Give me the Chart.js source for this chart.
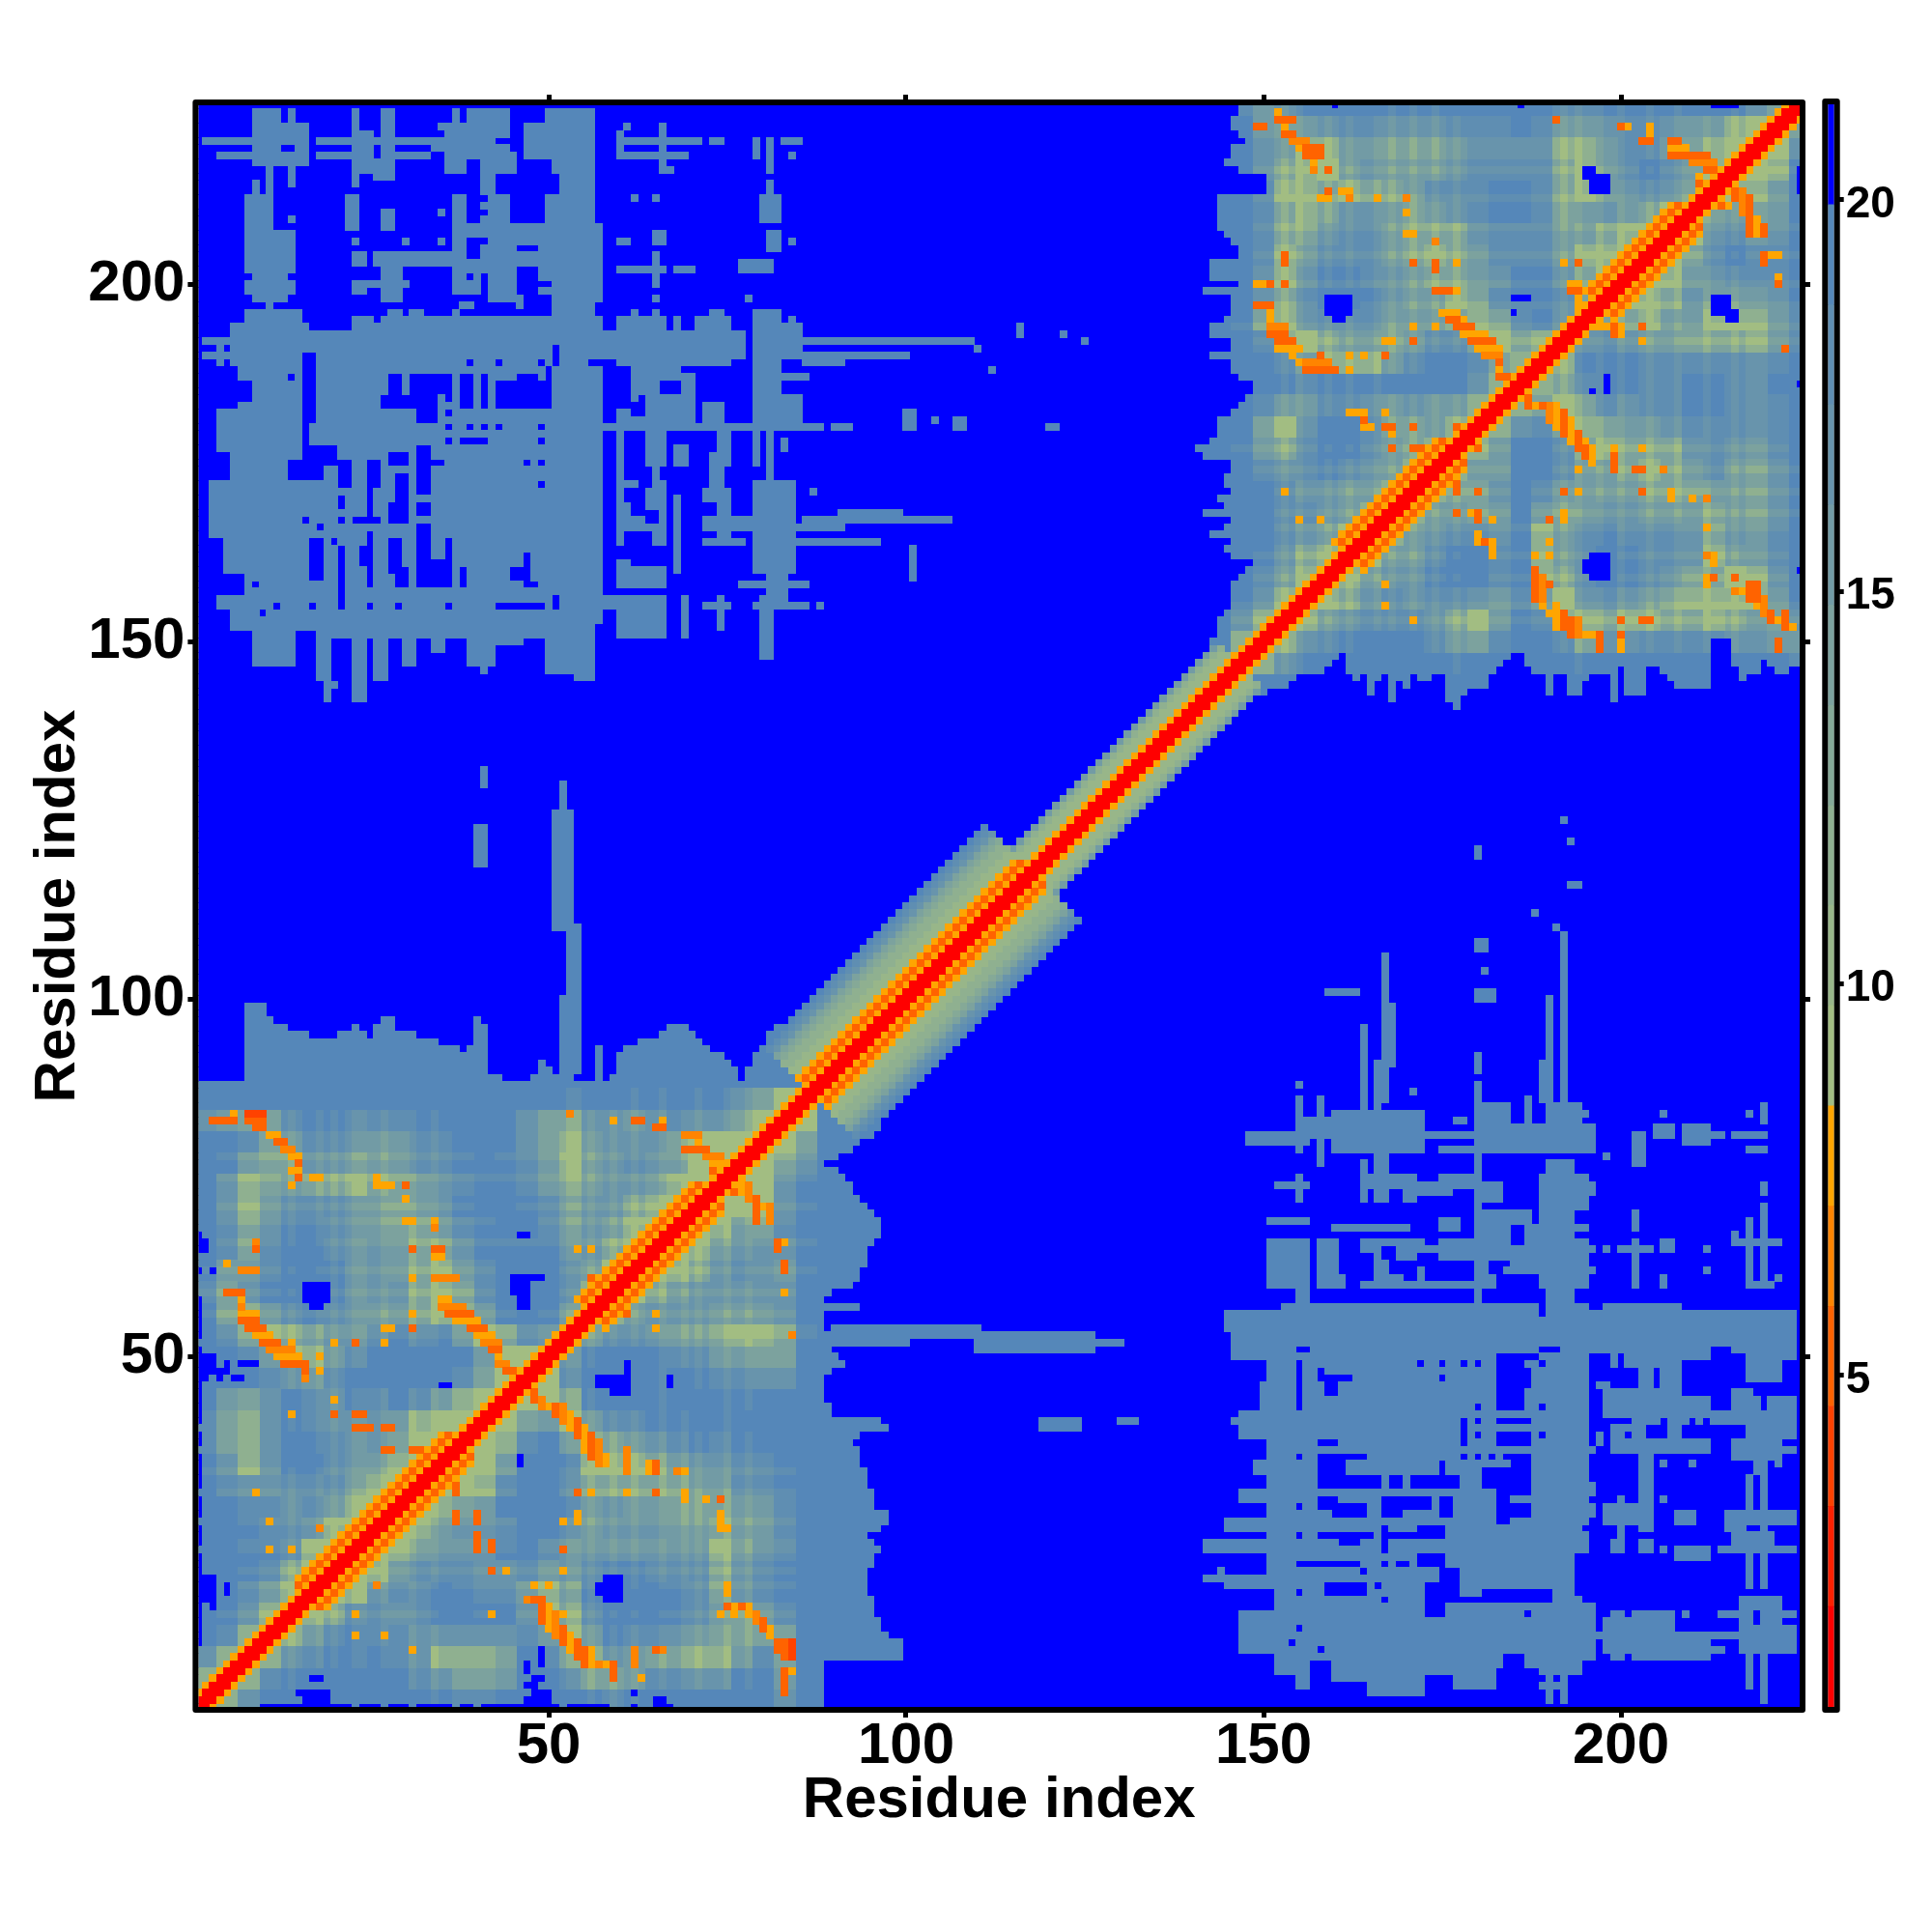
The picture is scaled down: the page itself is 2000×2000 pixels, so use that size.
<!DOCTYPE html>
<html>
<head>
<meta charset="utf-8">
<script src="https://cdn.jsdelivr.net/npm/chart.js@4"></script>
<style>
html, body { margin: 0; background: #fff; }
canvas { position: absolute; left: 0; top: 0; }
</style>
</head>
<body>
<canvas id="mapChart" width="2000" height="2000"></canvas>
<canvas id="barChart" width="2000" height="2000"></canvas>
<script>
const residueCount = 225;
const axisTicks = [50, 100, 150, 200];
const colorTicks = [5, 10, 15, 20];
const axisTitle = 'Residue index';

// one colour per distance bin, red (close) to blue (far)
const levelColors = ['#ff0000', '#ff2100', '#ff4200', '#ff6300', '#ff8400', '#ffa500',
    '#a2bd82', '#98b689', '#8fb090', '#85a997', '#7ca29e', '#729ba5', '#6894ac', '#5f8eb2', '#5587b9', '#0000ff'];
const colorBreaks = [0.77, 2.05, 3.33, 4.61, 5.88, 7.16, 8.44, 9.72, 11, 12.27, 13.55, 14.83, 16.11, 17.39, 18.66, 19.94, 21.22];

// distance bins by offset from the diagonal
const bandPlain = [0, 0, 5];
const bandStrand = [0, 0, 5, 3, 5];
const bandHelix = [0, 0, 5, 3, 5, 7, 7, 8, 8, 9, 10, 12, 13, 14];
const bandLinker = [0, 0, 5, 7, 7, 8, 11];
const bandSegments = [
    [1, 16, bandPlain], [17, 37, bandStrand], [38, 55, bandPlain], [56, 72, bandStrand],
    [73, 86, bandPlain], [87, 117, bandHelix], [118, 146, bandLinker], [147, 161, bandPlain],
    [162, 176, bandStrand], [177, 196, bandPlain], [197, 209, bandStrand], [210, 225, bandPlain]
];

// how far the first domain reaches, for y = 1..88
const domainOneReach = [84, 84, 85, 86, 86, 86, 88, 99, 99, 99, 97, 96, 96, 95, 95, 95, 94, 94, 94, 94, 95, 95, 96, 95, 94,
    96, 97, 97, 95, 95, 95, 94, 94, 94, 93, 93, 93, 92, 93, 97, 96, 89, 89, 88, 87, 87, 87, 89, 91, 90, 89, 100, 93, 88, 88,
    88, 93, 88, 89, 92, 93, 93, 94, 94, 94, 95, 96, 96, 96, 95, 94, 93, 92, 92, 91, 90, 88, 90, 92, 93, 95, 96, 96, 96, 97, 98, 99, 100];
// where the second domain starts, for y = 146..225
const domainTwoStart = [144, 143, 143, 143, 143, 144, 144, 144, 145, 146, 146, 146, 146, 147, 148, 149, 146, 145, 146, 143,
    145, 146, 142, 145, 144, 146, 145, 145, 146, 146, 142, 141, 143, 144, 144, 144, 146, 147, 148, 149, 149, 147, 146, 146,
    143, 146, 146, 143, 143, 145, 146, 146, 146, 142, 147, 143, 143, 143, 147, 147, 146, 145, 144, 144, 144, 144, 144, 151,
    151, 151, 147, 145, 146, 146, 148, 147, 146, 146, 147, 147];

// soft background of each domain, 3 x 3 residue blocks, lower triangle, 0 = steel .. 8 = khaki
const domainOneShade = ['8', '78', '478', '1378', '12478', '013578', '0123688', '01223788', '012334788', '0233435788',
    '13443335788', '247411345788', '3674123446888', '36742344457888', '256413423135788', '0123453100013688',
    '01358753100025888', '136765443232586348', '2675323455677521258', '36421024446763100378', '255311244567531113588',
    '1363113445664222244688', '13642234566532113545788', '147533345654211235446788', '1476566766543223565445788',
    '02566445553321235754345888', '023653345533212467544468888', '4566322333221124664454344688', '01211001110000022211221224688'];
const domainTwoShade = ['8', '78', '478', '2478', '13578', '024678', '0134578', '01334578', '013445578', '1343234578',
    '25631135678', '268411366578', '1355334545578', '01232221001478', '013577753113678', '1378655653368678',
    '26743335556763248', '146311245576322368', '1474223456654224678', '13753335676533357778', '036643356664333556788',
    '1367644565432236545688', '13776766533322367543468', '146785455543333675313578', '1457755666544447753356788',
    '25654334443332355433455788', '354211122211102332222102468'];
// residues whose row and column run a little closer than their neighbours
const domainOneStreaks = [14, 18, 20, 23, 24, 27, 31, 34, 53, 54, 56, 59, 62, 66, 69, 71, 75, 78];
const domainTwoStreaks = [153, 155, 159, 162, 166, 168, 171, 174, 177, 192, 194, 197, 200, 204, 208, 212, 216];
// digit of the shade tables, plus streaks, to distance bin
const shadeBins = [14, 14, 14, 13, 12, 11, 10, 8, 6, 6, 6];

const domainOneContacts = [[3, 6, 83, 3], [6, 6, 84, 5], [8, 10, 84, 2], [8, 10, 83, 3], [9, 10, 82, 3], [11, 12, 81, 5], [12, 13, 80, 3],
    [13, 14, 79, 4], [14, 15, 78, 5], [15, 15, 77, 3], [14, 15, 76, 5], [15, 15, 75, 3], [17, 18, 75, 5], [14, 14, 74, 5],
    [5, 5, 63, 5], [7, 9, 62, 4], [5, 7, 59, 3], [7, 7, 58, 5], [7, 7, 57, 4], [7, 9, 56, 5], [7, 9, 55, 3], [8, 10, 54, 3], [9, 11, 53, 5],
    [10, 12, 52, 3], [11, 14, 51, 4], [14, 14, 52, 5], [12, 15, 50, 5], [13, 16, 49, 3], [16, 16, 48, 3], [16, 16, 47, 4], [18, 18, 50, 5],
    [18, 18, 48, 5], [9, 9, 66, 4], [9, 9, 65, 3], [35, 36, 58, 5], [35, 38, 57, 4], [36, 39, 56, 3], [37, 40, 55, 5], [39, 41, 54, 3],
    [40, 42, 53, 5], [41, 43, 52, 4], [42, 43, 51, 3], [43, 43, 50, 5], [43, 44, 49, 4], [44, 46, 48, 3], [26, 26, 75, 5], [26, 28, 74, 5],
    [30, 30, 74, 3], [30, 30, 72, 5], [30, 31, 69, 5], [34, 34, 69, 5], [34, 34, 68, 4], [31, 31, 65, 3], [34, 35, 65, 3], [34, 35, 64, 5],
    [31, 31, 61, 5], [34, 37, 61, 4], [31, 31, 56, 5], [27, 28, 54, 5], [31, 31, 54, 3], [20, 20, 52, 5], [23, 23, 52, 3], [27, 27, 52, 5],
    [20, 20, 44, 5], [14, 14, 42, 5], [20, 20, 42, 3], [23, 24, 42, 3], [23, 25, 40, 3], [27, 28, 40, 3], [27, 28, 37, 3], [31, 33, 37, 3],
    [32, 33, 36, 5], [31, 34, 35, 4], [9, 9, 31, 5], [11, 11, 27, 5], [18, 18, 26, 4], [11, 11, 23, 5], [14, 14, 23, 5], [15, 16, 18, 3],
    [53, 53, 84, 4], [59, 59, 83, 5], [62, 63, 83, 3], [66, 66, 83, 5], [65, 66, 82, 3], [69, 71, 81, 4], [71, 71, 80, 5], [69, 72, 79, 3],
    [72, 74, 78, 4], [73, 74, 77, 5], [73, 73, 76, 3], [74, 74, 75, 5], [54, 54, 65, 5], [56, 56, 65, 5], [56, 56, 61, 3], [56, 56, 59, 5]];
const domainTwoContacts = [[149, 150, 222, 3], [152, 152, 224, 5], [152, 154, 223, 3], [153, 153, 222, 5], [153, 154, 221, 3],
    [154, 156, 220, 4], [155, 155, 219, 5], [156, 158, 219, 3], [156, 158, 218, 3], [157, 157, 217, 5], [157, 157, 216, 4], [159, 159, 216, 3],
    [159, 159, 213, 3], [158, 159, 212, 5], [161, 162, 213, 5], [162, 162, 212, 4], [166, 166, 212, 5], [170, 170, 212, 4], [170, 170, 210, 5],
    [170, 171, 207, 5], [174, 174, 206, 4], [174, 174, 203, 3], [174, 174, 202, 3], [171, 171, 203, 3], [177, 177, 203, 5], [153, 153, 204, 3],
    [153, 153, 203, 3], [149, 150, 200, 5], [151, 151, 200, 3], [153, 153, 200, 3], [174, 176, 199, 3], [177, 177, 199, 5], [149, 151, 197, 3],
    [151, 151, 196, 5], [151, 151, 195, 5], [151, 153, 194, 4], [151, 153, 193, 3], [152, 154, 192, 3], [152, 155, 191, 5], [154, 154, 190, 5],
    [155, 156, 189, 5], [158, 158, 190, 3], [156, 159, 189, 4], [156, 160, 188, 3], [162, 162, 190, 5], [164, 164, 190, 5], [167, 167, 190, 3],
    [162, 162, 188, 5], [167, 168, 192, 5], [171, 171, 192, 3], [171, 171, 194, 5], [174, 174, 194, 5], [175, 177, 196, 5], [176, 177, 195, 3],
    [178, 178, 195, 5], [177, 179, 194, 3], [178, 181, 193, 5], [179, 182, 192, 3], [180, 183, 191, 5], [181, 183, 190, 4], [183, 183, 189, 3],
    [183, 183, 188, 5], [183, 184, 187, 3], [191, 191, 223, 3], [200, 200, 222, 3], [201, 201, 222, 5], [204, 204, 222, 5], [204, 204, 221, 5],
    [203, 204, 220, 3], [207, 208, 220, 3], [207, 209, 219, 5], [207, 212, 218, 3], [210, 213, 217, 4], [212, 214, 216, 3], [211, 211, 215, 5],
    [211, 212, 214, 3], [206, 207, 210, 5], [192, 192, 203, 5], [194, 194, 203, 3], [193, 194, 200, 5], [193, 195, 199, 3], [194, 194, 198, 5],
    [194, 194, 197, 5], [194, 194, 196, 3], [162, 164, 182, 5], [164, 164, 181, 3], [164, 165, 180, 5], [167, 167, 182, 5], [167, 168, 180, 3],
    [168, 168, 179, 5], [171, 171, 180, 3], [168, 168, 177, 3], [171, 172, 177, 3], [174, 174, 177, 5], [172, 172, 176, 5], [172, 173, 175, 5],
    [177, 177, 180, 3], [177, 177, 179, 5], [153, 153, 171, 5], [155, 155, 167, 5], [158, 158, 167, 5]];

// patches at about 20 between the two domains: x from, x to, y from, y to
const farSteel = [[9, 12, 217, 224], [14, 14, 222, 224], [9, 16, 217, 222], [2, 9, 220, 220], [4, 9, 218, 218], [11, 11, 208, 217], [14, 14, 214, 217],
    [8, 10, 208, 212], [9, 9, 213, 214], [14, 14, 209, 209], [8, 14, 202, 207], [9, 13, 198, 202], [8, 14, 199, 200], [11, 11, 197, 197], [8, 15, 195, 196],
    [23, 23, 222, 224], [27, 28, 216, 224], [18, 20, 220, 220], [21, 26, 220, 220], [29, 33, 220, 220], [18, 23, 218, 218], [29, 33, 218, 218],
    [23, 25, 216, 221], [23, 23, 214, 216], [26, 28, 215, 217], [22, 23, 208, 212], [27, 28, 208, 210], [23, 23, 206, 206], [30, 30, 206, 206],
    [35, 35, 206, 206], [35, 35, 210, 210], [37, 38, 209, 212], [23, 24, 203, 204], [26, 33, 203, 204], [27, 29, 198, 202], [25, 30, 200, 200], [23, 24, 199, 200],
    [39, 44, 218, 224], [37, 37, 222, 224], [35, 35, 222, 222], [36, 44, 216, 222], [34, 38, 219, 220], [41, 45, 208, 218], [50, 56, 208, 224], [47, 55, 218, 222],
    [37, 57, 202, 208], [33, 57, 203, 204], [37, 40, 199, 202], [42, 57, 198, 202], [51, 56, 196, 199], [38, 39, 197, 197], [46, 46, 197, 197],
    [60, 60, 218, 221], [66, 66, 216, 222], [61, 71, 220, 220], [73, 74, 220, 220], [61, 69, 218, 218], [66, 67, 216, 216], [61, 61, 222, 222],
    [79, 79, 218, 220], [81, 81, 216, 220], [83, 85, 220, 220], [84, 84, 218, 218], [80, 82, 209, 212], [81, 81, 213, 214], [62, 62, 212, 212], [65, 65, 212, 212],
    [60, 61, 206, 206], [65, 66, 206, 207], [81, 82, 205, 207], [84, 84, 206, 206], [60, 66, 202, 202], [65, 65, 200, 204], [68, 70, 202, 202], [77, 81, 202, 203],
    [65, 65, 198, 198], [78, 78, 198, 198],
    [6, 16, 189, 194], [2, 6, 192, 192], [2, 6, 190, 190], [4, 4, 189, 192], [7, 15, 183, 188], [4, 15, 177, 182], [6, 17, 166, 177], [3, 17, 167, 172],
    [3, 4, 165, 170], [5, 17, 160, 166], [8, 17, 156, 160], [4, 17, 155, 156], [6, 17, 152, 154], [9, 14, 147, 152],
    [17, 57, 153, 189], [17, 76, 190, 193], [23, 57, 194, 195], [28, 29, 196, 196], [31, 32, 196, 196], [37, 37, 196, 196], [60, 66, 194, 195], [62, 62, 196, 196],
    [65, 65, 196, 196], [68, 68, 194, 195], [71, 75, 193, 195], [73, 74, 196, 196], [77, 77, 190, 193], [60, 75, 189, 189], [60, 70, 181, 189], [72, 74, 181, 183],
    [79, 85, 190, 194], [79, 82, 181, 196], [79, 85, 180, 184], [84, 84, 193, 195], [86, 109, 192, 192], [86, 100, 190, 190], [86, 91, 189, 189], [83, 86, 187, 187],
    [57, 88, 180, 180], [90, 92, 180, 180], [60, 60, 171, 179], [64, 66, 175, 179], [74, 75, 175, 179], [68, 69, 175, 177], [79, 79, 175, 179], [81, 81, 174, 179],
    [83, 83, 177, 178], [73, 74, 172, 176], [65, 65, 172, 175], [81, 81, 173, 173], [60, 66, 164, 172], [68, 68, 160, 170], [72, 75, 170, 171], [74, 74, 168, 170],
    [72, 78, 166, 167], [74, 75, 165, 169], [72, 77, 164, 164], [79, 84, 160, 172], [81, 83, 155, 160], [77, 86, 158, 158], [87, 87, 171, 171], [85, 91, 166, 166],
    [85, 88, 164, 164], [90, 92, 164, 164], [57, 66, 155, 156], [60, 66, 151, 155], [72, 75, 155, 155], [79, 86, 155, 155], [88, 88, 155, 155], [69, 69, 151, 156],
    [74, 74, 152, 156], [80, 81, 148, 156], [60, 61, 158, 161], [62, 66, 158, 160],
    [18, 56, 151, 152], [34, 35, 149, 150], [39, 42, 147, 150], [41, 41, 146, 146], [50, 56, 146, 152], [54, 56, 145, 146], [18, 19, 145, 150], [19, 20, 144, 144],
    [19, 19, 142, 143], [23, 24, 142, 150], [26, 27, 145, 150], [30, 31, 147, 150], [42, 46, 150, 151],
    [51, 53, 110, 126], [52, 52, 126, 130], [53, 54, 90, 110], [40, 41, 119, 124], [41, 41, 130, 132], [86, 106, 167, 167], [86, 96, 164, 164], [91, 99, 168, 168],
    [101, 101, 159, 163], [100, 101, 180, 182], [104, 104, 181, 181], [107, 108, 180, 181], [116, 116, 193, 194], [122, 122, 193, 193], [125, 125, 192, 192],
    [120, 121, 180, 180], [110, 110, 191, 191], [112, 112, 188, 188]];
const farHoles = [[13, 14, 219, 219], [43, 51, 213, 215], [45, 46, 209, 213], [48, 49, 209, 213], [39, 40, 216, 217], [46, 50, 216, 217], [43, 44, 220, 220],
    [39, 40, 204, 206], [46, 48, 205, 205], [46, 48, 199, 202], [49, 50, 200, 200], [47, 50, 197, 198], [39, 39, 201, 201], [41, 41, 201, 201], [41, 41, 206, 206], [41, 41, 210, 210], [41, 41, 212, 212],
    [16, 17, 184, 190], [14, 14, 187, 187], [6, 8, 184, 186], [17, 17, 181, 183], [28, 29, 183, 187], [31, 35, 185, 187], [27, 34, 183, 184], [32, 34, 181, 182],
    [36, 36, 184, 187], [38, 39, 183, 187], [41, 41, 183, 187], [43, 50, 183, 186], [46, 48, 187, 187], [50, 50, 187, 188], [36, 36, 182, 182], [36, 36, 180, 180], [36, 36, 178, 178],
    [39, 39, 180, 180], [38, 40, 178, 178], [41, 41, 180, 180], [43, 43, 180, 180], [41, 41, 178, 178], [49, 49, 180, 180], [49, 49, 178, 178], [49, 49, 189, 189], [51, 51, 189, 191],
    [39, 39, 189, 189], [43, 43, 189, 189], [26, 26, 195, 195], [14, 18, 173, 175], [16, 18, 176, 177], [19, 20, 175, 177], [21, 22, 172, 175], [25, 26, 172, 175], [25, 25, 167, 171], [23, 26, 167, 167],
    [21, 21, 167, 167], [21, 21, 169, 170], [29, 30, 170, 173], [28, 30, 167, 169], [28, 30, 175, 176], [32, 33, 171, 177], [34, 35, 175, 175], [32, 33, 168, 169], [47, 47, 175, 175], [49, 49, 175, 175], [49, 49, 172, 172],
    [16, 16, 167, 167], [18, 18, 166, 166], [17, 18, 159, 164], [20, 20, 164, 164], [21, 21, 155, 163], [25, 25, 158, 165], [24, 24, 161, 163], [28, 29, 160, 163], [28, 29, 164, 164], [29, 30, 158, 160],
    [32, 33, 160, 166], [32, 36, 158, 161], [36, 36, 162, 164], [38, 38, 158, 160], [45, 46, 159, 160], [47, 47, 158, 162], [48, 48, 158, 158], [43, 49, 155, 155], [51, 51, 155, 156], [17, 17, 155, 155],
    [25, 25, 155, 155], [29, 29, 155, 155], [36, 36, 155, 155], [9, 9, 158, 158], [12, 12, 155, 155], [10, 10, 154, 154], [56, 57, 189, 189],
    [58, 61, 183, 188], [63, 63, 184, 184], [66, 68, 185, 186], [71, 74, 184, 188], [62, 63, 182, 183], [69, 70, 188, 188], [61, 63, 170, 171], [62, 63, 168, 169], [64, 65, 167, 168], [61, 64, 163, 165], [62, 64, 161, 162], [63, 64, 172, 174]];

const domainOneHoles = [[16, 19, 58, 60], [17, 18, 57, 57], [45, 47, 59, 61], [46, 49, 61, 61], [46, 47, 57, 58], [46, 47, 67, 67], [35, 36, 46, 46],
    [1, 2, 47, 48], [4, 4, 47, 48], [6, 7, 47, 47], [1, 2, 16, 18], [3, 3, 15, 17], [1, 2, 65, 66], [1, 1, 62, 62], [3, 3, 62, 62],
    [10, 22, 1, 1], [24, 26, 1, 1], [28, 30, 1, 1], [32, 36, 1, 1], [38, 39, 1, 1], [41, 51, 1, 1], [53, 53, 1, 1], [54, 55, 1, 1], [56, 58, 1, 1], [62, 62, 1, 1], [65, 67, 1, 1],
    [17, 19, 2, 3], [48, 50, 2, 3], [17, 18, 5, 5], [48, 49, 5, 5], [49, 49, 7, 9]];
const domainTwoHoles = [[159, 162, 196, 198], [160, 161, 195, 195], [185, 187, 198, 198], [185, 185, 196, 196], [196, 198, 213, 215], [195, 196, 215, 216],
    [213, 216, 225, 225], [186, 186, 225, 225], [160, 160, 225, 225]];

const STEEL = 14, BLUE = 15;

function buildMap() {
    const map = [];
    for (let y = 0; y <= residueCount; y++) map.push(new Array(residueCount + 1).fill(BLUE));
    const put = (x, y, level) => {
        if (x < 1 || y < 1 || x > residueCount || y > residueCount) return;
        map[y][x] = level;
        map[x][y] = level;
    };
    const fill = (list, level) => list.forEach(p => {
        for (let y = p[2]; y <= p[3]; y++) for (let x = p[0]; x <= p[1]; x++) put(x, y, level);
    });
    const shadeAt = (rows, streaks, base, x, y) => {
        const lo = Math.min(x, y) - base, hi = Math.max(x, y) - base;
        if (lo < 0 || !rows[Math.floor(hi / 3)]) return STEEL;
        const ch = rows[Math.floor(hi / 3)][Math.floor(lo / 3)];
        if (ch === undefined) return STEEL;
        let digit = Number(ch);
        if (digit > 0 && streaks.includes(x)) digit++;
        if (digit > 0 && streaks.includes(y)) digit++;
        return shadeBins[digit];
    };

    fill(farSteel, STEEL);
    fill(farHoles, BLUE);

    domainOneReach.forEach((reach, k) => {
        const y = k + 1;
        for (let x = 1; x <= reach; x++) put(x, y, shadeAt(domainOneShade, domainOneStreaks, 1, x, y));
    });
    domainTwoStart.forEach((start, k) => {
        const y = k + 146;
        for (let x = start; x <= y; x++) put(x, y, shadeAt(domainTwoShade, domainTwoStreaks, 146, x, y));
    });
    fill(domainOneHoles, BLUE);
    fill(domainTwoHoles, BLUE);
    domainOneContacts.concat(domainTwoContacts).forEach(c => {
        for (let x = c[0]; x <= c[1]; x++) put(x, c[2], c[3]);
    });

    // band along the diagonal
    for (let i = 1; i <= residueCount; i++) {
        for (let d = 0; d < 14; d++) {
            const mid = Math.floor((i + i + d) / 2);
            const seg = bandSegments.find(s => mid >= s[0] && mid <= s[1]);
            if (!seg) continue;
            const level = seg[2][d];
            if (level !== undefined) put(i, i + d, level);
        }
    }
    return map;
}

const distanceMap = buildMap();

// small filled square used as the point marker of each bin
function cellImage(color) {
    const c = document.createElement('canvas');
    c.width = 8;
    c.height = 8;
    const g = c.getContext('2d');
    g.fillStyle = color;
    g.fillRect(0, 0, 8, 8);
    return c;
}

// x has to be the outer loop, with parsing off the library expects points sorted by x
const mapDatasets = levelColors.map((color, level) => {
    const cells = [];
    for (let x = 1; x <= residueCount; x++) {
        for (let y = 1; y <= residueCount; y++) {
            if (distanceMap[y][x] === level) cells.push({ x: x, y: y });
        }
    }
    return { data: cells, pointStyle: cellImage(color), pointRadius: 4, pointHoverRadius: 4, clip: 0, showLine: false };
});

const framePlugin = {
    id: 'frame',
    afterDraw(chart) {
        const a = chart.chartArea, g = chart.ctx;
        g.save();
        g.strokeStyle = '#000';
        g.lineWidth = 6;
        g.lineJoin = 'round';
        g.strokeRect(a.left - 3, a.top - 3, a.right - a.left + 6, a.bottom - a.top + 6);
        g.restore();
    }
};

const setTicks = values => scale => { scale.ticks = values.map(v => ({ value: v })); };
const nub = { display: true, drawOnChartArea: false, drawTicks: true, tickLength: 11, tickWidth: 5, tickColor: '#000' };
const bigFont = { family: 'Liberation Sans', weight: 'bold', size: 60 };

function mapAxis(position, labelled, fit, tickPad, titlePad) {
    return {
        type: 'linear',
        position: position,
        min: 1,
        max: residueCount,
        afterBuildTicks: setTicks(axisTicks),
        afterFit: fit,
        grid: nub,
        border: { display: false },
        ticks: { display: labelled, color: '#000', font: bigFont, autoSkip: false, maxRotation: 0, padding: tickPad },
        title: { display: labelled, text: axisTitle, color: '#000', font: bigFont, padding: titlePad }
    };
}

new Chart(document.getElementById('mapChart'), {
    type: 'scatter',
    data: { datasets: mapDatasets },
    plugins: [framePlugin],
    options: {
        responsive: false,
        devicePixelRatio: 1,
        animation: false,
        parsing: false,
        normalized: true,
        events: [],
        plugins: { legend: { display: false }, tooltip: { enabled: false } },
        scales: {
            x: mapAxis('bottom', true, s => { s.height = 233; }, -6, 100),
            x2: mapAxis('top', false, s => { s.height = 109; }, 0, 0),
            y: mapAxis('left', true, s => { s.width = 205.4; }, 3, 24),
            y2: mapAxis('right', false, s => { s.width = 137; }, 0, 0)
        }
    }
});

new Chart(document.getElementById('barChart'), {
    type: 'bar',
    data: {
        labels: ['bins'],
        datasets: levelColors.map((color, k) => ({
            data: [[colorBreaks[k], colorBreaks[k + 1]]],
            backgroundColor: color,
            barPercentage: 1,
            categoryPercentage: 1
        }))
    },
    plugins: [framePlugin],
    options: {
        responsive: false,
        devicePixelRatio: 1,
        animation: false,
        events: [],
        layout: { padding: { left: 1892.3, top: 108, bottom: 233 } },
        plugins: { legend: { display: false }, tooltip: { enabled: false } },
        scales: {
            x: { display: false, stacked: true },
            y: {
                position: 'right',
                stacked: false,
                min: colorBreaks[0],
                max: colorBreaks[colorBreaks.length - 1],
                afterBuildTicks: setTicks(colorTicks),
                afterFit: s => { s.width = 2000 - 1898.7; s.paddingTop = 0; s.paddingBottom = 0; },
                grid: { display: true, drawOnChartArea: false, drawTicks: true, tickLength: 10, tickWidth: 5, tickColor: '#000' },
                border: { display: false },
                ticks: { color: '#000', font: { family: 'Liberation Sans', weight: 'bold', size: 46 }, padding: 2, labelOffset: 5 }
            }
        }
    }
});
</script>
</body>
</html>
